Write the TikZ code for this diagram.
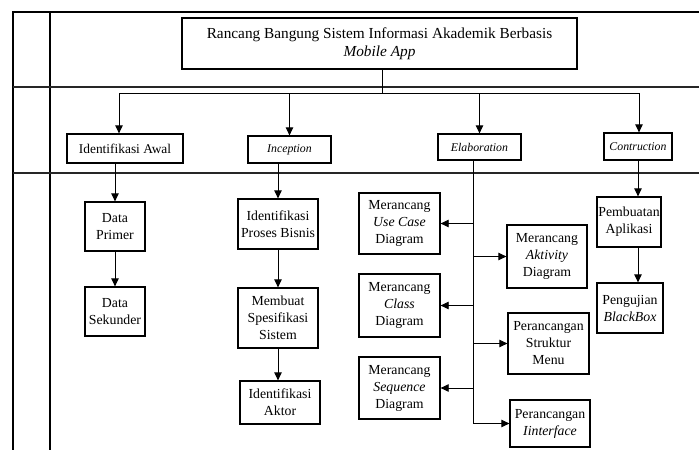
\documentclass[tikz,border=0pt]{standalone}
\usepackage{fontspec}
\setmainfont{Liberation Serif}
\usetikzlibrary{calc}
\usetikzlibrary{arrows.meta}
\usetikzlibrary{positioning}

\begin{document}
\begin{tikzpicture}[x=1pt, y=-1pt,
  kotak/.style={draw, line width=1.3pt, align=center, inner sep=1pt, font=\fontsize{13.8}{17}\selectfont},
  tahap/.style={kotak, font=\fontsize{11.8}{14}\selectfont\itshape},
  garis/.style={line width=0.8pt},
  >={Triangle[length=8pt,width=7.5pt]}]
\useasboundingbox (0,0) rectangle (699,450);
% kerangka
\draw[line width=1.5pt] (699,12) -- (13,12) -- (13,450);
\draw[line width=1.5pt] (50,12) -- (50,450);
\foreach \y in {87,173} {
 \draw[line width=1.5pt, black!85] (13,\y) -- (699,\y);
}
% judul
\node[kotak, minimum width=395pt, minimum height=51pt, font=\fontsize{15.3}{17.5}\selectfont] (judul) at (379.5,43.5)
 {Rancang Bangung Sistem Informasi Akademik Berbasis\\ \textit{Mobile App}};
\coordinate (bus) at (382,93);
\coordinate (k1) at (119,93);
\coordinate (k4) at (639,93);
% tahap
\node[kotak, minimum width=116pt, minimum height=29pt, font=\fontsize{13.4}{16}\selectfont] (awal) at (125,148.5) {Identifikasi Awal};
\node[tahap, minimum width=83pt, minimum height=27pt] (inception) at (289.5,149.5) {Inception};
\node[tahap, minimum width=83pt, minimum height=26pt] (elaboration) at (479.5,147) {Elaboration};
\node[tahap, minimum width=68pt, minimum height=27pt] (contruction) at (638,146.5) {Contruction};
% identifikasi awal
\node[kotak, minimum width=60pt, minimum height=49pt] (primer) at (115,226.5) {Data\\ Primer};
\node[kotak, minimum width=60pt, minimum height=49pt] (sekunder) at (115,311.5) {Data\\ Sekunder};
% inception
\node[kotak, minimum width=80pt, minimum height=50pt] (proses) at (278,224) {Identifikasi\\ Proses Bisnis};
\node[kotak, minimum width=80pt, minimum height=60pt] (spesifikasi) at (278,318) {Membuat\\ Spesifikasi\\ Sistem};
\node[kotak, minimum width=80pt, minimum height=43pt] (aktor) at (280,402.5) {Identifikasi\\ Aktor};
% elaboration
\node[kotak, minimum width=81pt, minimum height=61pt] (usecase) at (399.5,223.5) {Merancang\\ \textit{Use Case}\\ Diagram};
\node[kotak, minimum width=81pt, minimum height=63pt] (class) at (399.5,305.5) {Merancang\\ \textit{Class}\\ Diagram};
\node[kotak, minimum width=81pt, minimum height=62pt] (sequence) at (399.5,388) {Merancang\\ \textit{Sequence}\\ Diagram};
\node[kotak, minimum width=80pt, minimum height=63pt] (aktivity) at (547,256.5) {Merancang\\ \textit{Aktivity}\\ Diagram};
\node[kotak, minimum width=81pt, minimum height=61pt] (menu) at (548.5,343.5) {Perancangan\\ Struktur\\ Menu};
\node[kotak, minimum width=80pt, minimum height=47pt] (interface) at (550,423.5) {Perancangan\\ \textit{Iinterface}};
\coordinate (trunk) at (473,160);
% contruction
\node[kotak, minimum width=64pt, minimum height=50pt] (pembuatan) at (629,222) {Pembuatan\\ Aplikasi};
\node[kotak, minimum width=66pt, minimum height=50pt] (pengujian) at (630,308) {Pengujian\\ \textit{BlackBox}};

% penghubung
\draw[garis] (judul.south -| bus) -- (bus);
\draw[garis] (k1) -- (k4);
\foreach \k/\n in {k1/awal, inception/inception, elaboration/elaboration, k4/contruction} {
 \draw[garis, ->] (\k |- bus) -- (\k |- \n.north);
}
\draw[garis, ->] (awal.south -| primer) -- (primer.north);
\draw[garis, ->] (primer) -- (sekunder);
\draw[garis, ->] (inception.south -| proses) -- (proses.north);
\draw[garis, ->] (proses) -- (spesifikasi);
\draw[garis, ->] (spesifikasi.south) -- (spesifikasi.south |- aktor.north);
\draw[garis, ->] (trunk) |- (interface.west);
\foreach \n in {usecase, class, sequence} {
 \draw[garis, ->] (trunk |- \n) -- (\n.east);
}
\foreach \n in {aktivity, menu} {
 \draw[garis, ->] (trunk |- \n) -- (\n.west);
}
\draw[garis, ->] (contruction.south) -- (contruction.south |- pembuatan.north);
\draw[garis, ->] (pembuatan.south -| contruction) -- (contruction |- pengujian.north);
\end{tikzpicture}
\end{document}
